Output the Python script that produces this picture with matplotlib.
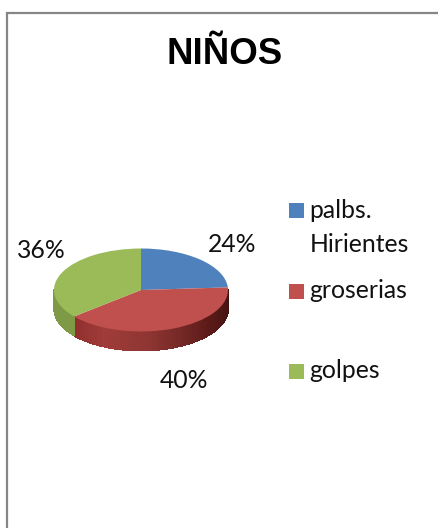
import numpy as np
import matplotlib
matplotlib.use("Agg")
import matplotlib.pyplot as plt
from matplotlib.patches import Rectangle
from matplotlib.colors import to_rgb

title = "NIÑOS"
categories = ["palbs.\nHirientes", "groserias", "golpes"]
values = [24, 40, 36]
top_colors = ["#4F81BD", "#C0504D", "#9BBB59"]
green_wall = "#7E9A47"
red_wall_stops = [(90, "#3E1110"), (130, "#5A1A18"), (175, "#8E3532"), (205, "#A03C39"), (231, "#8F2F2D")]
W, H = 439, 528
CX, CY, RX, RY, DEPTH = 141, 290, 87, 41.5, 19

fig = plt.figure(figsize=(W / 100, H / 100), dpi=100, facecolor="white")

# Pie in an axes stretched so that the unit circle renders as the flattened ellipse
ax = fig.add_axes([0, 0, 1, 1])
ax.pie(values, colors=top_colors, startangle=90, counterclock=False, radius=1,
       wedgeprops=dict(linewidth=0, zorder=5), normalize=True)
ax.set_aspect("auto")
ax.set_xlim(-CX / RX, (W - CX) / RX)
ax.set_ylim(-(H - CY) / RY, CY / RY)
ax.axis("off")

# Side wall of the pie, built from the same values
edges = np.concatenate([[0], np.cumsum(values)]) * 360 / sum(values)
d = DEPTH / RY
def wall(a0, a1, color, lw=0.0, z=2):
    t = np.radians(np.linspace(a0, a1, 8))
    x, y = np.sin(t), np.cos(t)
    ax.fill(np.r_[x, x[::-1]], np.r_[y, (y - d)[::-1]], facecolor=color, edgecolor=color,
            lw=lw, zorder=z, antialiased=False)
stops_a = [s[0] for s in red_wall_stops]
stops_c = np.array([to_rgb(s[1]) for s in red_wall_stops])
red_angles = np.linspace(90, edges[2], 60)
for a0, a1 in zip(red_angles[:-1], red_angles[1:]):
    m = (a0 + a1) / 2
    wall(a0, a1, [np.interp(m, stops_a, stops_c[:, i]) for i in range(3)], lw=0.6)
wall(edges[2], 270, green_wall, lw=0.4)

# Pixel-coordinate overlay for frame, title, labels and legend
ov = fig.add_axes([0, 0, 1, 1], facecolor="none")
ov.set_xlim(0, W)
ov.set_ylim(H, 0)
ov.axis("off")
ov.plot([7.5, 7.5, W], [H, 12.5, 12.5], color="#868686", lw=1.6, solid_joinstyle="miter")
ov.text(224.5, 55, title, family="Liberation Sans", weight="bold", fontsize=26.4,
        ha="center", va="center", color="black")

body = dict(family="Lato", fontsize=17.8, color="#111111")
pct = [f"{v}%" for v in values]
for s, (x, y) in zip(pct, [(232, 244), (184, 380), (41, 251)]):
    ov.text(x, y, s, ha="center", va="center", **body)

swatch_y = [203, 284, 364]
text_y = [211, 291, 371]
for name, c, sy, ty in zip(categories, top_colors, swatch_y, text_y):
    ov.add_patch(Rectangle((289, sy), 15, 15, facecolor=c, edgecolor="none"))
    lines = name.split("\n")
    for i, line in enumerate(lines):
        ov.text(309.5, ty + i * 33, line, ha="left", va="center", **body)

fig.savefig("out.png", dpi=100, facecolor="white")
